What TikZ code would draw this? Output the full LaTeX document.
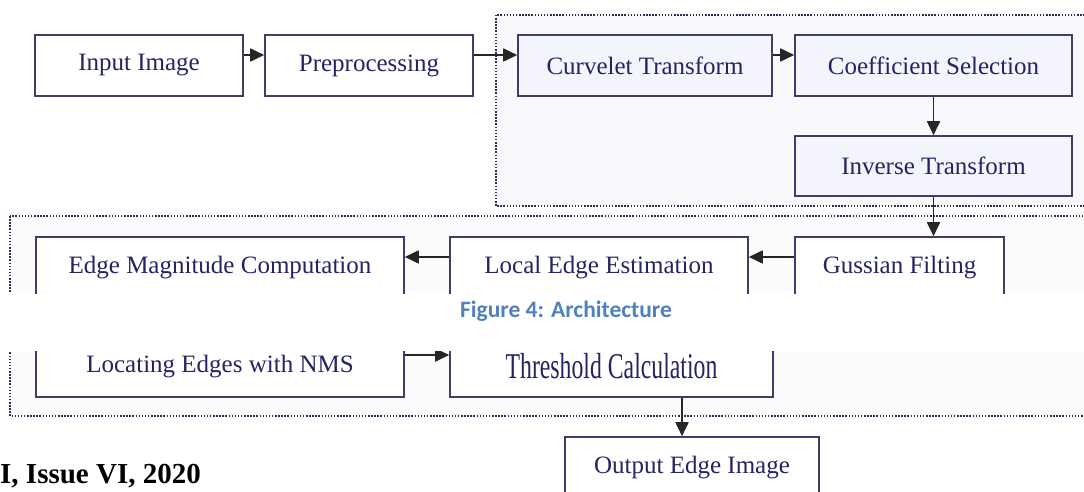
\documentclass[tikz,border=0pt]{standalone}
\usepackage{fontspec}
\setmainfont{Liberation Serif}
\newfontfamily\capfont{Carlito}
\usepackage{graphicx}
\usepackage{tikz}
\usetikzlibrary{arrows.meta}

\definecolor{boxline}{RGB}{62,62,105}
\definecolor{boxtext}{RGB}{36,36,100}
\definecolor{boxfill}{RGB}{244,244,252}
\definecolor{dotline}{RGB}{45,45,80}
\definecolor{capblue}{RGB}{79,129,189}

\begin{document}
\begin{tikzpicture}[x=1pt, y=-1pt,
    box/.style={draw=boxline, line width=1.6pt, text=boxtext, minimum height=61pt,
        inner sep=0pt, font=\fontsize{25}{30}\selectfont},
    group/.style={draw=dotline, line width=2pt, dash pattern=on 1.5pt off 1.6pt},
    flow/.style={->, line width=1.8pt, draw=black!85},
    >={Triangle[length=14pt,width=13pt]}]
    \useasboundingbox (0,0) rectangle (1084,492);
    \clip (0,0) rectangle (1084,492);
    \fill[white] (0,0) rectangle (1084,492);

    % dotted groups
    \draw[group, fill=boxfill!60] (496,15) rectangle (1100,206);
    \draw[group, fill=boxfill!30] (10,216) rectangle (1100,416);

    \node[box, minimum width=208pt]             (inp)  at (139,65.5)   {Input Image};
    \node[box, minimum width=208pt]             (pre)  at (369,65.5)   {Preprocessing};
    \node[box, fill=boxfill, minimum width=254pt] (cur)  at (645,65.5)   {Curvelet Transform};
    \node[box, fill=boxfill, minimum width=277pt] (coef) at (933.5,65.5) {Coefficient Selection};
    \node[box, fill=boxfill, minimum width=277pt, minimum height=60pt] (inv) at (933.5,166) {Inverse Transform};
    \node[box, fill=white, minimum width=209pt] (gus)  at (899.5,267.5) {Gussian Filting};
    \node[box, fill=white, minimum width=298pt] (loc)  at (599,267.5)   {Local Edge Estimation};
    \node[box, fill=white, minimum width=368pt] (mag)  at (220,267.5)   {Edge Magnitude Computation};
    \node[box, fill=white, minimum width=368pt] (nms)  at (220,366.5)   {Locating Edges with NMS};
    \node[box, fill=white, minimum width=323pt] (thr)  at (611.5,366.5)
        {\scalebox{0.95}[1.45]{Threshold Calculation}};
    \node[box, fill=white, minimum width=254pt] (out)  at (692,467.5)   {Output Edge Image};

    \path
        ([yshift=10.5pt]inp.east) edge [flow] ([yshift=10.5pt]pre.west)
        ([yshift=10.5pt]pre.east) edge [flow] ([yshift=10.5pt]cur.west)
        ([yshift=10.5pt]cur.east) edge [flow] ([yshift=10.5pt]coef.west)
        (coef.south) edge [flow] (inv.north)
        (inv.south) edge [flow] (inv.south |- gus.north)
        ([yshift=10.5pt]gus.west) edge [flow] ([yshift=10.5pt]loc.east)
        ([yshift=10.5pt]loc.west) edge [flow] ([yshift=10.5pt]mag.east)
        ([yshift=11.5pt]nms.east) edge [flow] ([yshift=11.5pt]thr.west)
        ([xshift=-10pt]out.north |- thr.south) edge [flow] ([xshift=-10pt]out.north)
        ;

    % caption band
    \fill[white] (0,294) rectangle (1084,351);
    \node[text=capblue, font=\capfont\bfseries\fontsize{23.5}{28}\selectfont] (cap) at (566,311)
        {Figure 4: Architecture};
    \node[anchor=west, inner sep=0pt, font=\bfseries\fontsize{29}{34}\selectfont] (vol) at (0,476)
        {I, Issue VI, 2020};
\end{tikzpicture}
\end{document}
